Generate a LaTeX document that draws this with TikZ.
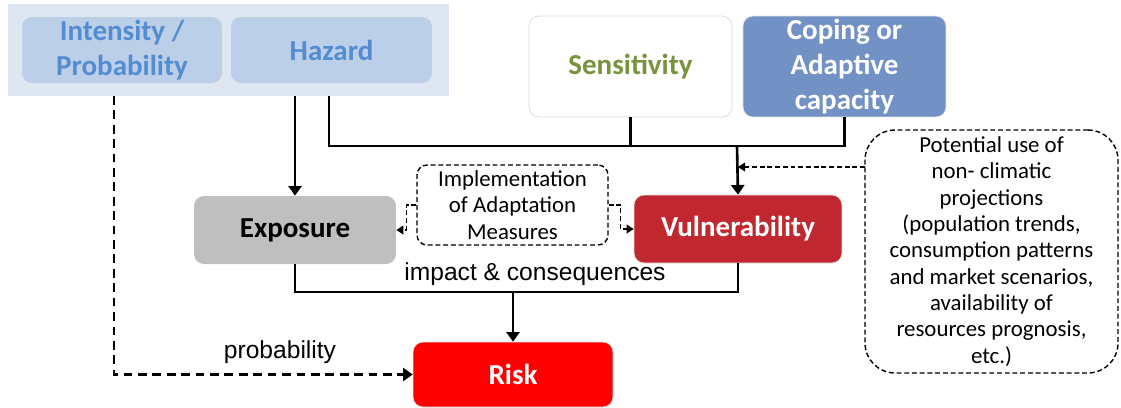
\documentclass[tikz,border=0pt]{standalone}
\usepackage{fontspec}
\setmainfont{Carlito}
\newfontfamily\labelfont{Liberation Sans}
\usetikzlibrary{arrows.meta}

\begin{document}
\begin{tikzpicture}[x=0.02cm,y=-0.02cm,
  box/.style={rectangle,rounded corners=0.2cm,inner sep=0pt,align=center,
    font=\fontsize{16.5}{19.8}\selectfont\bfseries},
  dashbox/.style={rectangle,draw=black,line width=0.8pt,dash pattern=on 2.8pt off 1.6pt,
    fill=white,inner sep=0pt,align=center,font=\fontsize{13}{15}\selectfont},
  link/.style={line width=1.5pt},
  linkarrow/.style={line width=1.5pt,-{Triangle[width=7.5pt,length=5.5pt]}},
  dasharrow/.style={line width=1.5pt,dash pattern=on 5pt off 3.2pt,-{Triangle[width=7.5pt,length=5.5pt]}},
  thinarrow/.style={line width=0.8pt,dash pattern=on 2.8pt off 1.6pt,-{Triangle[width=5pt,length=4pt]}}]
\definecolor{panelcolor}{RGB}{221,230,241}
\definecolor{hazardfill}{RGB}{187,207,232}
\definecolor{hazardtext}{RGB}{84,140,210}
\definecolor{sensitext}{RGB}{119,147,60}
\definecolor{copingfill}{RGB}{114,145,196}
\definecolor{exposfill}{RGB}{191,191,191}
\definecolor{vulnfill}{RGB}{192,39,46}
\definecolor{riskfill}{RGB}{255,0,0}
\useasboundingbox (0,0) rectangle (1121,407);
\node [rectangle,fill=panelcolor,minimum width=8.82cm,minimum height=1.84cm,inner sep=0pt] (panel) at (228.5,50) {};
\node [box,fill=hazardfill,text=hazardtext,minimum width=4cm,minimum height=1.32cm] (int) at (122,50) {Intensity /\\Probability};
\node [box,fill=hazardfill,text=hazardtext,minimum width=4.02cm,minimum height=1.32cm] (haz) at (331.5,50) {Hazard};
\node [box,fill=white,draw=black!15,text=sensitext,minimum width=4.06cm,minimum height=2.02cm] (sen) at (630.5,66.5) {Sensitivity};
\node [box,fill=copingfill,draw=black!10,text=white,minimum width=4.06cm,minimum height=2.02cm] (cop) at (844.5,66.5) {Coping or\\Adaptive\\capacity};
\node [box,fill=exposfill,text=black,minimum width=4.04cm,minimum height=1.36cm] (exp) at (295,230) {Exposure};
\node [box,fill=vulnfill,draw=black!10,text=white,minimum width=4.16cm,minimum height=1.36cm] (vul) at (738,229) {Vulnerability};
\node [box,fill=riskfill,draw=black!10,text=white,minimum width=4cm,minimum height=1.3cm] (risk) at (513,374.5) {Risk};
\node [dashbox,rounded corners=0.2cm,minimum width=3.82cm,minimum height=1.6cm] (imp) at (512.5,205) {Implementation\\of Adaptation\\Measures};
\node [dashbox,rounded corners=0.6cm,minimum width=5.06cm,minimum height=4.86cm] (note) at (991.5,251.5)
  {Potential use of\\non- climatic\\projections\\(population trends,\\consumption patterns\\and market scenarios,\\availability of\\resources prognosis,\\etc.)};
\node [font=\labelfont\fontsize{14}{16}\selectfont] (impact) at (535,274) {impact \& consequences};
\node [font=\labelfont\fontsize{14}{16}\selectfont] (prob) at (280,352) {probability};
\coordinate (pr) at (114,96);
\coordinate (hz) at (329,96);
\coordinate (jn) at (737,146);
\coordinate (nh) at (865,167);
\coordinate (mid) at (513,292);
\draw [dasharrow] (pr) |- (risk.west);
\draw [linkarrow] (exp.north |- panel.south) -- (exp.north);
\draw [link] (hz) |- (jn) -| (cop.south);
\draw [link] (sen.south) -- (sen.south |- jn);
\draw [linkarrow] (jn) -- (vul.north);
\draw [thinarrow] (nh) -- (nh -| vul.north);
\draw [thinarrow] (imp.west) -- ++(-10,0) |- (exp.east);
\draw [thinarrow] (imp.east) -- ++(12,0) |- (vul.west);
\draw [link] (exp.south) -- (exp.south |- mid) -| (vul.south);
\draw [linkarrow] (mid) -- (risk.north);
\end{tikzpicture}
\end{document}
